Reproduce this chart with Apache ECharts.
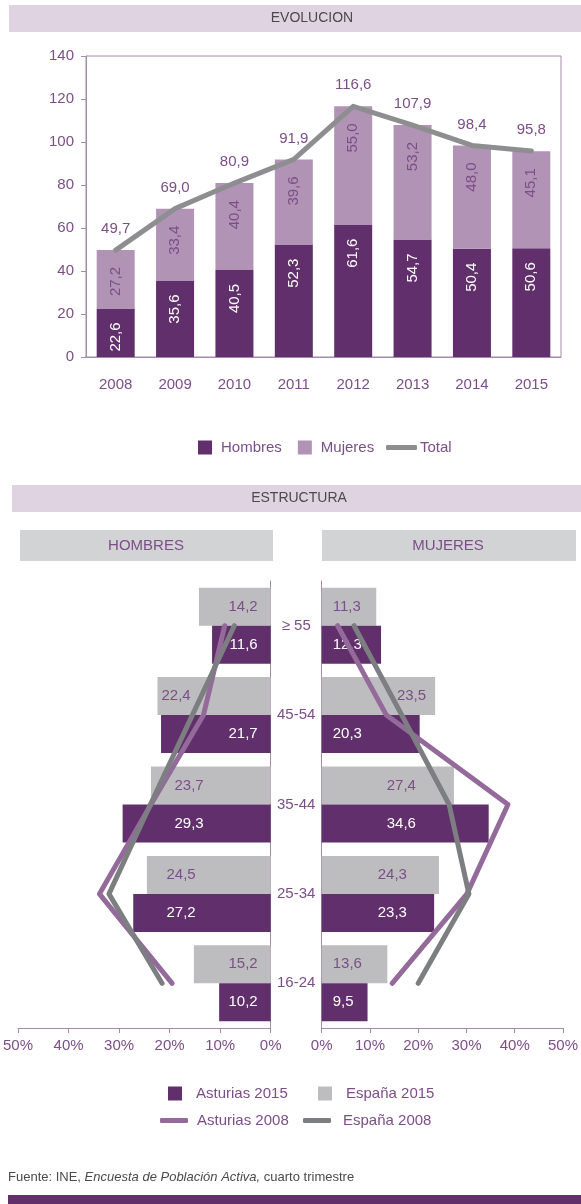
<!DOCTYPE html>
<html>
<head>
<meta charset="utf-8">
<script src="https://cdn.jsdelivr.net/npm/echarts@6/dist/echarts.min.js"></script>
<style>
    html, body { margin: 0; padding: 0; background: #fff; }
    #chart { width: 581px; height: 1204px; }
</style>
</head>
<body>
<div id="chart"></div>
<script>
// ---- evolucion ----
const years = ['2008', '2009', '2010', '2011', '2012', '2013', '2014', '2015'];
const hombres = [22.6, 35.6, 40.5, 52.3, 61.6, 54.7, 50.4, 50.6];
const mujeres = [27.2, 33.4, 40.4, 39.6, 55.0, 53.2, 48.0, 45.1];
const total = [49.7, 69.0, 80.9, 91.9, 116.6, 107.9, 98.4, 95.8];

// ---- estructura (bottom to top) ----
const ageGroups = ['16-24', '25-34', '35-44', '45-54', '\u2265 55'];
const hombresAst2015 = [10.2, 27.2, 29.3, 21.7, 11.6];
const hombresEsp2015 = [15.2, 24.5, 23.7, 22.4, 14.2];
const hombresAst2008 = [19.5, 33.9, 23.7, 13.3, 9.1];
const hombresEsp2008 = [21.5, 32.0, 23.8, 15.5, 7.2];
const mujeresAst2015 = [9.5, 23.3, 34.6, 20.3, 12.3];
const mujeresEsp2015 = [13.6, 24.3, 27.4, 23.5, 11.3];
const mujeresAst2008 = [14.6, 30.1, 38.6, 13.4, 3.3];
const mujeresEsp2008 = [20.0, 30.5, 26.4, 16.6, 6.7];

// label distances inside the pyramid bars (keeps numbers clear of the lines)
const distHomAst = [13, 75, 67, 13, 13];
const distHomEsp = [13, 75, 67, 80, 13];
const distMujAst = [11, 56, 65, 11, 11];
const distMujEsp = [11, 56, 65, 9, 11];
const sideMujEsp = ['insideLeft', 'insideLeft', 'insideLeft', 'insideRight', 'insideLeft'];

const PURPLE = '#612f6b';
const LILAC = '#b093b5';
const GREY_LINE = '#8e8e90';
const GREY_BAR = '#bdbdc0';
const AST08 = '#946a9b';
const ESP08 = '#7d7e81';
const TXT = '#7c4e87';
const AXIS = '#a58aab';
const FONT = 'Liberation Sans';

function fmt(v) {
    return Number(v).toFixed(1).replace('.', ',');
}

function withLabels(values, dists, positions) {
    return values.map((v, i) => ({
        value: v,
        label: {
            position: positions ? positions[i] : undefined,
            distance: dists[i]
        }
    }));
}

const barLabel = (pos, color) => ({
    show: true,
    position: pos,
    color: color,
    fontSize: 15,
    formatter: p => fmt(p.value)
});

const pctAxis = (gridIndex, inverse) => ({
    type: 'value',
    gridIndex: gridIndex,
    min: 0, max: 50, interval: 10,
    inverse: inverse,
    axisLine: { show: true, lineStyle: { color: AXIS } },
    axisTick: { show: true, length: 5, lineStyle: { color: AXIS } },
    axisLabel: { color: TXT, fontSize: 15, margin: 10, formatter: '{value}%' },
    splitLine: { show: false }
});

const pyramidLine = (name, data, axis, color, z) => ({
    name: name, type: 'line', xAxisIndex: axis, yAxisIndex: axis, data: data,
    symbol: 'none', z: z,
    itemStyle: { color: color },
    lineStyle: { color: color, width: 5, cap: 'round', join: 'round' }
});

const chart = echarts.init(document.getElementById('chart'), null, { renderer: 'canvas' });

const option = {
    animation: false,
    textStyle: { fontFamily: FONT },
    grid: [
        { left: 86, top: 56, width: 475, height: 301, show: true, borderColor: AXIS, borderWidth: 1 },
        { left: 16, top: 581, width: 254.7, height: 447 },
        { left: 321.7, top: 581, width: 256, height: 447 }
    ],
    xAxis: [
        {
            type: 'category', gridIndex: 0, data: years,
            axisLine: { lineStyle: { color: AXIS } },
            axisTick: { length: 5, lineStyle: { color: AXIS } },
            axisLabel: { color: TXT, fontSize: 15, margin: 20 }
        },
        pctAxis(1, true),
        pctAxis(2, false)
    ],
    yAxis: [
        {
            type: 'value', gridIndex: 0, min: 0, max: 140, interval: 20,
            axisLine: { show: true, lineStyle: { color: AXIS } },
            axisTick: { show: true, length: 5, lineStyle: { color: AXIS } },
            axisLabel: { color: TXT, fontSize: 15, margin: 12 },
            splitLine: { show: false }
        },
        {
            type: 'category', gridIndex: 1, data: ageGroups, position: 'right',
            axisLine: { lineStyle: { color: AXIS } },
            axisTick: { length: 5, lineStyle: { color: AXIS } },
            axisLabel: { color: TXT, fontSize: 15, margin: 25.5, align: 'center' }
        },
        {
            type: 'category', gridIndex: 2, data: ageGroups, position: 'left',
            axisLine: { lineStyle: { color: AXIS } },
            axisTick: { length: 5, lineStyle: { color: AXIS } },
            axisLabel: { show: false }
        }
    ],
    legend: [
        {
            data: ['Hombres', 'Mujeres'], left: 198, top: 440, padding: 0,
            icon: 'rect', itemWidth: 14, itemHeight: 14, itemGap: 16,
            textStyle: { color: TXT, fontSize: 15, padding: [0, 0, 0, 4] }
        },
        {
            data: ['Total'], left: 386, top: 440, padding: 0,
            icon: 'roundRect', itemWidth: 31, itemHeight: 5,
            textStyle: { color: TXT, fontSize: 15, padding: [0, 0, 0, -2] }
        },
        {
            data: ['Asturias 2015'], left: 168, top: 1086, padding: 0,
            icon: 'rect', itemWidth: 14, itemHeight: 14,
            textStyle: { color: TXT, fontSize: 15, padding: [0, 0, 0, 9] }
        },
        {
            data: ['Espa\u00f1a 2015'], left: 318, top: 1086, padding: 0,
            icon: 'rect', itemWidth: 14, itemHeight: 14,
            textStyle: { color: TXT, fontSize: 15, padding: [0, 0, 0, 9] }
        },
        {
            data: ['Asturias 2008'], left: 160, top: 1113, padding: 0,
            icon: 'roundRect', itemWidth: 28, itemHeight: 5,
            textStyle: { color: TXT, fontSize: 15, padding: [0, 0, 0, 4] }
        },
        {
            data: ['Espa\u00f1a 2008'], left: 303, top: 1113, padding: 0,
            icon: 'roundRect', itemWidth: 28, itemHeight: 5,
            textStyle: { color: TXT, fontSize: 15, padding: [0, 0, 0, 7] }
        }
    ],
    series: [
        // evolucion
        {
            name: 'Hombres', type: 'bar', stack: 'evo', data: hombres, barWidth: 38,
            itemStyle: { color: PURPLE },
            label: { show: true, position: 'insideTop', distance: 14, rotate: 90, align: 'right', verticalAlign: 'middle',
                     color: '#fff', fontSize: 15, formatter: p => fmt(p.value) }
        },
        {
            name: 'Mujeres', type: 'bar', stack: 'evo', data: mujeres, barWidth: 38,
            itemStyle: { color: LILAC },
            label: { show: true, position: 'insideTop', distance: 17, rotate: 90, align: 'right', verticalAlign: 'middle',
                     color: TXT, fontSize: 15, formatter: p => fmt(p.value) }
        },
        {
            name: 'Total', type: 'line', data: total, symbol: 'circle', symbolSize: 1, z: 5,
            itemStyle: { color: GREY_LINE },
            lineStyle: { color: GREY_LINE, width: 5, cap: 'round', join: 'round' },
            label: { show: true, position: 'top', distance: 13, color: TXT, fontSize: 15, formatter: p => fmt(p.value) }
        },
        // estructura - hombres (first bar of each group is drawn on top)
        {
            name: 'Espa\u00f1a 2015', type: 'bar', xAxisIndex: 1, yAxisIndex: 1, barWidth: 38, barGap: '0%',
            data: withLabels(hombresEsp2015, distHomEsp),
            itemStyle: { color: GREY_BAR },
            label: barLabel('insideRight', TXT)
        },
        {
            name: 'Asturias 2015', type: 'bar', xAxisIndex: 1, yAxisIndex: 1, barWidth: 38, barGap: '0%',
            data: withLabels(hombresAst2015, distHomAst),
            itemStyle: { color: PURPLE },
            label: barLabel('insideRight', '#fff')
        },
        pyramidLine('Asturias 2008', hombresAst2008, 1, AST08, 5),
        pyramidLine('Espa\u00f1a 2008', hombresEsp2008, 1, ESP08, 6),
        // estructura - mujeres
        {
            name: 'Espa\u00f1a 2015', type: 'bar', xAxisIndex: 2, yAxisIndex: 2, barWidth: 38, barGap: '0%',
            data: withLabels(mujeresEsp2015, distMujEsp, sideMujEsp),
            itemStyle: { color: GREY_BAR },
            label: barLabel('insideLeft', TXT)
        },
        {
            name: 'Asturias 2015', type: 'bar', xAxisIndex: 2, yAxisIndex: 2, barWidth: 38, barGap: '0%',
            data: withLabels(mujeresAst2015, distMujAst),
            itemStyle: { color: PURPLE },
            label: barLabel('insideLeft', '#fff')
        },
        pyramidLine('Asturias 2008', mujeresAst2008, 2, AST08, 5),
        pyramidLine('Espa\u00f1a 2008', mujeresEsp2008, 2, ESP08, 6)
    ],
    graphic: [
        { type: 'rect', shape: { x: 9, y: 5, width: 572, height: 27 }, style: { fill: '#e0d3e1' } },
        { type: 'text', x: 312, y: 18.5, style: { text: 'EVOLUCION', fill: '#4a4a4a', font: '14px ' + FONT, align: 'center', verticalAlign: 'middle' } },
        { type: 'rect', shape: { x: 12, y: 485, width: 569, height: 27 }, style: { fill: '#e0d3e1' } },
        { type: 'text', x: 299, y: 498.5, style: { text: 'ESTRUCTURA', fill: '#4a4a4a', font: '14px ' + FONT, align: 'center', verticalAlign: 'middle' } },
        { type: 'rect', shape: { x: 20, y: 530, width: 253, height: 31 }, style: { fill: '#d2d3d5' } },
        { type: 'text', x: 146, y: 545.5, style: { text: 'HOMBRES', fill: TXT, font: '15px ' + FONT, align: 'center', verticalAlign: 'middle' } },
        { type: 'rect', shape: { x: 322, y: 530, width: 254, height: 31 }, style: { fill: '#d2d3d5' } },
        { type: 'text', x: 448, y: 545.5, style: { text: 'MUJERES', fill: TXT, font: '15px ' + FONT, align: 'center', verticalAlign: 'middle' } },
        {
            type: 'text', x: 8, y: 1177,
            style: {
                text: '{n|Fuente: INE, }{i|Encuesta de Poblaci\u00f3n Activa,}{n| cuarto trimestre}',
                verticalAlign: 'middle',
                rich: {
                    n: { fill: '#4a4a4a', fontSize: 13, fontFamily: FONT },
                    i: { fill: '#4a4a4a', fontSize: 13, fontFamily: FONT, fontStyle: 'italic' }
                }
            }
        },
        { type: 'rect', shape: { x: 8, y: 1195, width: 573, height: 9 }, style: { fill: '#61306b' } }
    ]
};

chart.setOption(option);
</script>
</body>
</html>
